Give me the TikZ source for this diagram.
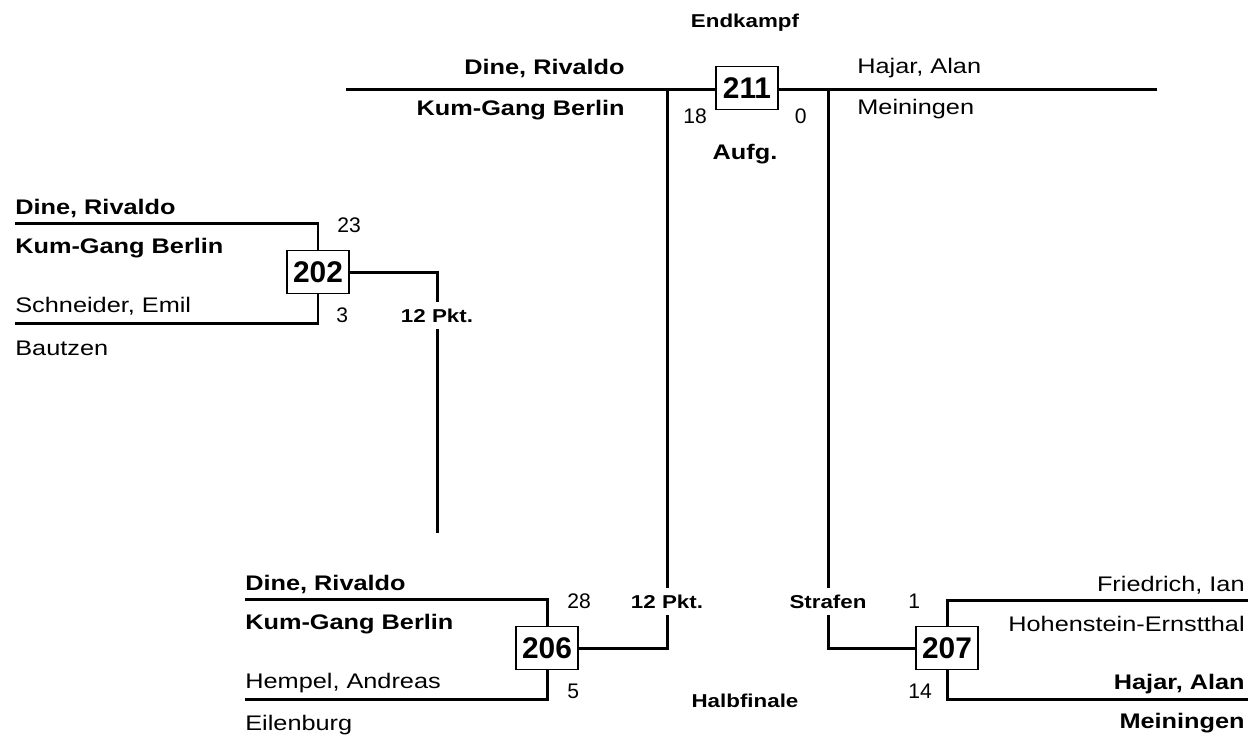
\documentclass[tikz,border=0pt]{standalone}
\usepackage{fontspec}
\setmainfont[FakeStretch=1.2]{Liberation Sans}
\newfontfamily\numfont{Liberation Sans}
\usetikzlibrary{positioning}

\begin{document}
\begin{tikzpicture}[
  x=0.02cm, y=-0.02cm,
  every node/.style={inner sep=0pt},
  wire/.style={line width=1.7pt},
  match/.style={draw, line width=0.8pt, fill=white, minimum width=1.24cm, minimum height=0.85cm, font=\numfont\bfseries\fontsize{17}{20}\selectfont},
  pname/.style={font=\fontsize{12}{14}\selectfont},
  pbold/.style={font=\fontsize{12}{14}\selectfont\bfseries},
  score/.style={font=\numfont\fontsize{12}{14}\selectfont},
  tag/.style={font=\fontsize{10.6}{12}\selectfont\bfseries},
  gaptag/.style={tag, inner ysep=3.5pt},
]
  \useasboundingbox (0,0) rectangle (1250,738);

  % Endkampf
  \node[tag, anchor=base] (tEnd) at (745,27) {Endkampf};
  \node[match] (b211) at (747,88) {211};
  \coordinate (fL) at (346,89);
  \coordinate (fR) at (1157,89);
  \coordinate (jL) at (667,89);
  \coordinate (jR) at (828,89);
  \draw[wire] (fL) -- (b211.west |- fL);
  \draw[wire] (b211.east |- fR) -- (fR);
  \node[pbold, anchor=base east] (f1) at (625,74) {Dine, Rivaldo};
  \node[pbold, anchor=base east] (f1c) at (625,115) {Kum-Gang Berlin};
  \node[pname, anchor=base west] (f2) at (857,73) {Hajar, Alan};
  \node[pname, anchor=base west] (f2c) at (857,114) {Meiningen};
  \node[score, anchor=base west] (s211a) at (683,123) {18};
  \node[score, anchor=base east] (s211b) at (807,123) {0};
  \node[pbold, anchor=base] (res211) at (745,159) {Aufg.};

  % Kampf 202
  \node[match] (b202) at (318,272) {202};
  \coordinate (l202a) at (15,223);
  \coordinate (l202b) at (15,323);
  \coordinate (e202) at (437,533);
  \draw[wire] (l202a) -| (b202.north);
  \draw[wire] (l202b) -| (b202.south);
  \node[pbold, anchor=base west] (p202a) at (15,214) {Dine, Rivaldo};
  \node[pbold, anchor=base west] (c202a) at (15,253) {Kum-Gang Berlin};
  \node[pname, anchor=base west] (p202b) at (15,312) {Schneider, Emil};
  \node[pname, anchor=base west] (c202b) at (15,355) {Bautzen};
  \node[score, anchor=base west] (s202a) at (337,232) {23};
  \node[score, anchor=base west] (s202b) at (336,322) {3};
  \node[gaptag, anchor=base] (pkt202) at (437,322) {12 Pkt.};
  \draw[wire] (b202.east) -| (pkt202.north);
  \draw[wire] (pkt202.south) -- (e202);

  % Kampf 206
  \node[match] (b206) at (547,648) {206};
  \coordinate (l206a) at (245,599);
  \coordinate (l206b) at (245,699);
  \draw[wire] (l206a) -| (b206.north);
  \draw[wire] (l206b) -| (b206.south);
  \node[pbold, anchor=base west] (p206a) at (245,590) {Dine, Rivaldo};
  \node[pbold, anchor=base west] (c206a) at (245,629) {Kum-Gang Berlin};
  \node[pname, anchor=base west] (p206b) at (245,688) {Hempel, Andreas};
  \node[pname, anchor=base west] (c206b) at (245,730) {Eilenburg};
  \node[score, anchor=base west] (s206a) at (567,608) {28};
  \node[score, anchor=base west] (s206b) at (567,698) {5};
  \node[gaptag, anchor=base] (pkt206) at (667,608) {12 Pkt.};
  \draw[wire] (b206.east) -| (pkt206.south);
  \draw[wire] (pkt206.north) -- (jL);

  % Kampf 207
  \node[match] (b207) at (947,648) {207};
  \coordinate (l207a) at (1248,600);
  \coordinate (l207b) at (1248,699);
  \draw[wire] (l207a) -| (b207.north);
  \draw[wire] (l207b) -| (b207.south);
  \node[pname, anchor=base east] (p207a) at (1245,591) {Friedrich, Ian};
  \node[pname, anchor=base east] (c207a) at (1245,631) {Hohenstein-Ernstthal};
  \node[pbold, anchor=base east] (p207b) at (1245,689) {Hajar, Alan};
  \node[pbold, anchor=base east] (c207b) at (1245,728) {Meiningen};
  \node[score, anchor=base west] (s207a) at (908,608) {1};
  \node[score, anchor=base west] (s207b) at (908,698) {14};
  \node[gaptag, anchor=base] (str207) at (828,608) {Strafen};
  \draw[wire] (b207.west) -| (str207.south);
  \draw[wire] (str207.north) -- (jR);

  \node[tag, anchor=base] (tHalb) at (745,707) {Halbfinale};
\end{tikzpicture}
\end{document}
